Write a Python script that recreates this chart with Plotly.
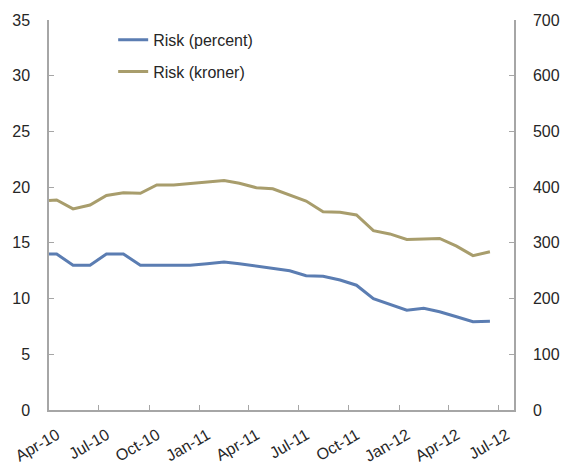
import plotly.graph_objects as go

# Dates: first point at axis start, then mid-month observations
dates = ["2010-04-01"] + [f"{y}-{m:02d}-15" for y, m in
         [(2010, mm) for mm in range(4, 13)] + [(2011, mm) for mm in range(1, 13)] + [(2012, mm) for mm in range(1, 7)]]

risk_percent = [14.0, 14.0, 13.0, 13.0, 14.0, 14.0, 13.0, 13.0, 13.0, 13.0, 13.13, 13.28, 13.13, 12.92,
                12.68, 12.5, 12.05, 12.0, 11.67, 11.2, 10.0, 9.5, 8.95, 9.12, 8.82, 8.37, 7.92, 7.96]
risk_kroner = [376, 377, 361, 368, 385, 390, 389, 404, 404, 407, 410, 412, 407, 399,
               397, 386, 375, 356, 355, 350, 322, 316, 306, 307, 308, 294, 277, 284]

tick_vals = ["2010-04-01", "2010-07-01", "2010-10-01", "2011-01-01", "2011-04-01", "2011-07-01",
             "2011-10-01", "2012-01-01", "2012-04-01", "2012-07-01"]
tick_text = ["Apr-10", "Jul-10", "Oct-10", "Jan-11", "Apr-11", "Jul-11",
             "Oct-11", "Jan-12", "Apr-12", "Jul-12"]

left_ticks = [0, 5, 10, 15, 20, 25, 30, 35]
right_ticks = [0, 100, 200, 300, 400, 500, 600, 700]

BLUE = "#5b7db2"
KHAKI = "#a89d6c"
AXIS = "#a6a6a6"
FONT = dict(family="Liberation Sans, Arial, sans-serif", size=16, color="#262626")

fig = go.Figure()
fig.add_trace(go.Scatter(x=dates, y=risk_percent, mode="lines", name="Risk (percent)",
                         line=dict(color=BLUE, width=3), legend="legend", showlegend=True))
fig.add_trace(go.Scatter(x=dates, y=risk_kroner, mode="lines", name="Risk (kroner)",
                         line=dict(color=KHAKI, width=3), yaxis="y2", legend="legend2", showlegend=True))

axis_common = dict(showline=True, linecolor=AXIS, linewidth=1.5, ticks="inside", ticklen=5,
                   tickcolor=AXIS, tickwidth=1, showgrid=False, zeroline=False, tickfont=FONT,
                   automargin=False)

fig.update_layout(
    width=563, height=464,
    margin=dict(l=48.5, r=49, t=20, b=54),
    paper_bgcolor="white", plot_bgcolor="white",
    font=FONT,
    showlegend=True,
    xaxis=dict(type="date", range=["2010-04-01", "2012-07-29"], tickvals=tick_vals, ticktext=tick_text,
               tickangle=-30, ticklabelstandoff=8, ticklabelshift=8, **axis_common),
    yaxis=dict(range=[0, 35], tickvals=left_ticks, ticklabelstandoff=14, **axis_common),
    yaxis2=dict(range=[0, 700], tickvals=right_ticks, overlaying="y", side="right",
                ticklabelstandoff=14, **axis_common),
    legend=dict(x=0.138, y=0.949, xanchor="left", yanchor="middle", font=FONT, bgcolor="rgba(0,0,0,0)"),
    legend2=dict(x=0.138, y=0.868, xanchor="left", yanchor="middle", font=FONT, bgcolor="rgba(0,0,0,0)"),
)

fig.write_html("out.html")
